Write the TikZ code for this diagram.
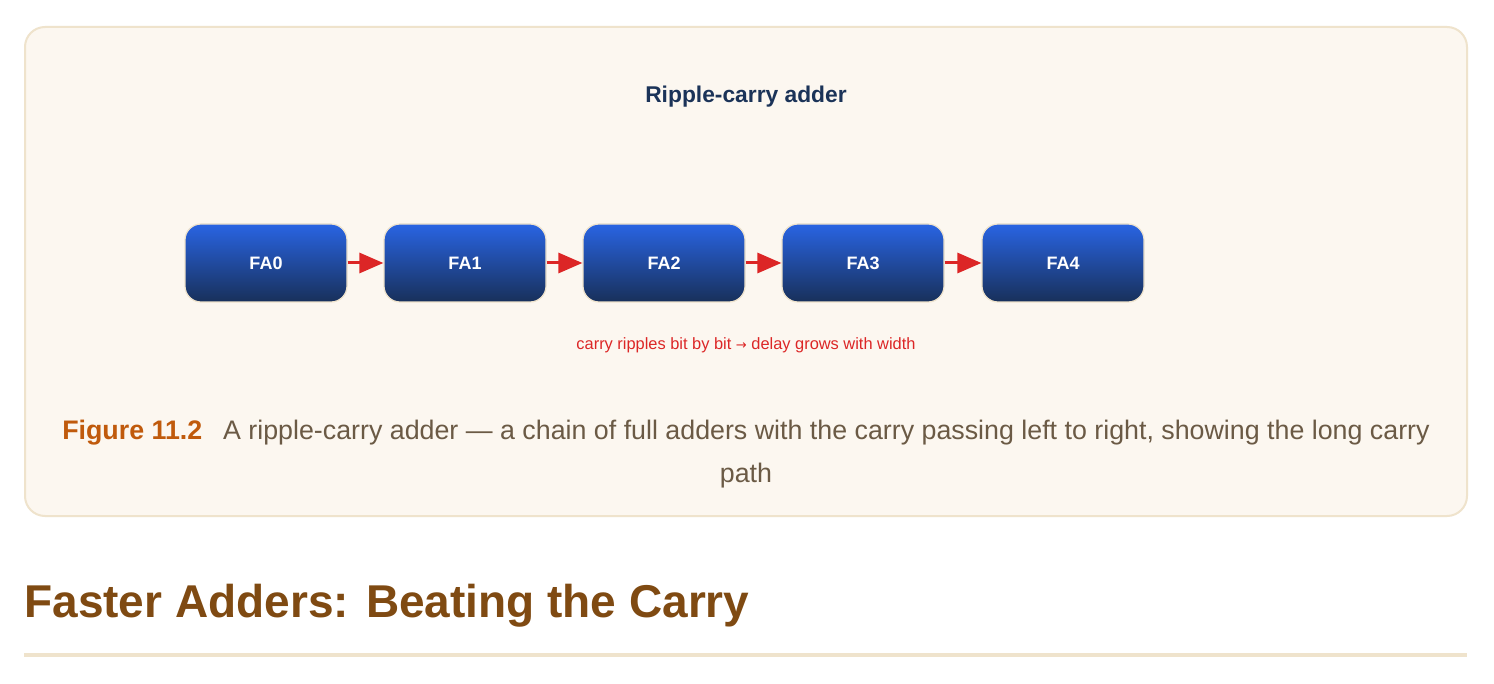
\documentclass[tikz,border=0pt]{standalone}
\usepackage{fontspec}
\setmainfont{Liberation Sans}
\usetikzlibrary{arrows.meta}
\definecolor{panel}{HTML}{FCF7F0}
\definecolor{panelb}{HTML}{EFE3CC}
\definecolor{navy}{HTML}{1B3358}
\definecolor{btop}{HTML}{2964E3}
\definecolor{bbot}{HTML}{18305A}
\definecolor{arr}{HTML}{DC2626}
\definecolor{capo}{HTML}{C05A0C}
\definecolor{capt}{HTML}{6B5A45}
\definecolor{head}{HTML}{7F4A12}
\begin{document}
\begin{tikzpicture}[x=0.5pt,y=-0.5pt,
  fa/.style={rounded corners=8pt,draw=panelb,line width=0.6pt,top color=btop,bottom color=bbot,
    minimum width=81pt,minimum height=39pt,text=white,font=\fontsize{9}{10}\selectfont\bfseries},
  carry/.style={draw=arr,line width=1.5pt,-{Triangle[length=12pt,width=10pt]}}]
\useasboundingbox (0,0) rectangle (1494,684);
\fill[white] (0,0) rectangle (1494,684);
\draw[panelb,fill=panel,line width=1pt,rounded corners=10pt] (25,27) rectangle (1467,516);
\node[font=\fontsize{11.4}{13}\selectfont\bfseries,text=navy] (title) at (746,97) {Ripple-carry adder};
\foreach \i/\x in {0/266,1/465,2/664,3/863,4/1063}{
  \node[fa] (fa\i) at (\x,263) {FA\i};
}
\foreach \a/\b in {0/1,1/2,2/3,3/4}{
  \draw[carry] (fa\a.east) -- (fa\b.west);
}
\node[text=arr,font=\fontsize{8.2}{10}\selectfont] (note) at (746,345) {carry ripples bit by bit {\fontspec{DejaVu Sans}\fontsize{6.5}{10}\selectfont →} delay grows with width};
\node[inner sep=0pt,text=capt] (cap) at (746,454)
 {\parbox{700pt}{\centering\fontsize{13.4}{21.5}\selectfont {\color{capo}\bfseries Figure 11.2}\hspace{0.5em} A ripple-carry adder — a chain of full adders with the carry passing left to right, showing the long carry path}};
\node[anchor=west,font=\fontsize{23}{28}\selectfont\bfseries,text=head,inner sep=0pt] (h) at (24,606) {Faster Adders: Beating the Carry};
\draw[panelb,line width=2pt] (24,655) -- (1467,655);
\end{tikzpicture}
\end{document}
